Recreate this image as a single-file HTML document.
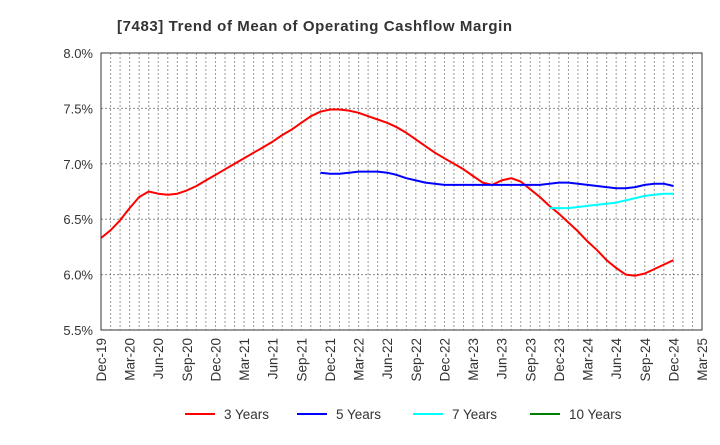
<!DOCTYPE html>
<html><head><meta charset="utf-8"><style>
body{margin:0;background:#fff;font-family:"Liberation Sans",sans-serif}
svg text{font-family:"Liberation Sans",sans-serif}
</style></head><body>
<svg id="chart" width="720" height="440">
<text x="117" y="31" font-size="15" font-weight="bold" fill="#333" textLength="395">[7483]  Trend of Mean of Operating Cashflow Margin</text>
<g id="grid"></g><g id="series"></g><g id="axes"></g><g id="legend"></g>
</svg>
<script>
const xLabels=["Dec-19","Mar-20","Jun-20","Sep-20","Dec-20","Mar-21","Jun-21","Sep-21","Dec-21","Mar-22","Jun-22","Sep-22","Dec-22","Mar-23","Jun-23","Sep-23","Dec-23","Mar-24","Jun-24","Sep-24","Dec-24","Mar-25"];
const yTicks=[5.5,6.0,6.5,7.0,7.5,8.0];
const red=[6.33,6.40,6.49,6.60,6.70,6.75,6.73,6.72,6.73,6.76,6.80,6.85,6.90,6.95,7.00,7.05,7.10,7.15,7.20,7.26,7.31,7.37,7.43,7.47,7.49,7.49,7.48,7.46,7.43,7.40,7.37,7.33,7.28,7.22,7.16,7.10,7.05,7.00,6.95,6.89,6.83,6.81,6.85,6.87,6.84,6.77,6.70,6.62,6.55,6.47,6.39,6.30,6.22,6.13,6.06,6.00,5.99,6.01,6.05,6.09,6.13];
const blueStart=23;
const blue=[6.92,6.91,6.91,6.92,6.93,6.93,6.93,6.92,6.90,6.87,6.85,6.83,6.82,6.81,6.81,6.81,6.81,6.81,6.81,6.81,6.81,6.81,6.81,6.81,6.82,6.83,6.83,6.82,6.81,6.80,6.79,6.78,6.78,6.79,6.81,6.82,6.82,6.80];
const cyanStart=47;
const cyan=[6.60,6.60,6.60,6.61,6.62,6.63,6.64,6.65,6.67,6.69,6.71,6.72,6.73,6.73];
const green=[];
const seriesNames=["3 Years","5 Years","7 Years","10 Years"];
const L=101,R=702,T=53,B=330,NM=63;
const xs=m=>L+(R-L)*m/NM;
const ys=v=>B-(B-T)*(v-5.5)/2.5;
const NS="http://www.w3.org/2000/svg";
function mk(tag,attrs,parent){const e=document.createElementNS(NS,tag);for(const k in attrs)e.setAttribute(k,attrs[k]);parent.appendChild(e);return e;}
const grid=document.getElementById('grid'),axes=document.getElementById('axes'),ser=document.getElementById('series'),leg=document.getElementById('legend');
for(let m=1;m<NM;m++){const l=mk('line',{x1:xs(m),x2:xs(m),y1:T,y2:B,stroke:'#999','stroke-dasharray':'2,2','stroke-width':1},grid);

}
yTicks.forEach(v=>{const l=mk('line',{x1:L,x2:R,y1:ys(v),y2:ys(v),stroke:'#888','stroke-dasharray':'2,2','stroke-width':1},grid);


const t=mk('text',{x:L-8,y:ys(v)+5,'text-anchor':'end','font-size':13,fill:'#333'},axes);t.textContent=v.toFixed(1)+'%';

});
xLabels.forEach((s,i)=>{const x=xs(i*3);const t=mk('text',{x:0,y:0,'text-anchor':'end','font-size':13.5,fill:'#333',transform:`translate(${x+5},${B+8}) rotate(-90)`},axes);t.textContent=s;

});
const frame=mk('rect',{x:L,y:T,width:R-L,height:B-T,fill:'none',stroke:'#333','stroke-width':1},axes);


function line(arr,start,color,name){if(!arr.length)return;const d=arr.map((v,i)=>(i?'L':'M')+xs(start+i).toFixed(1)+','+ys(v).toFixed(1)).join('');
const p=mk('path',{d:d,fill:'none',stroke:color,'stroke-width':2,'stroke-linejoin':'round'},ser);

}
line(red,0,'#ff0000','series-3-years');
line(blue,blueStart,'#0000ff','series-5-years');
line(cyan,cyanStart,'#00ffff','series-7-years');
line(green,0,'#008000','series-10-years');
const colors=['#ff0000','#0000ff','#00ffff','#008000'];const lx=[185,297,413,530];
seriesNames.forEach((n,i)=>{const g=mk('g',{},leg);


mk('line',{x1:lx[i],x2:lx[i]+30,y1:414,y2:414,stroke:colors[i],'stroke-width':2},g);
const t=mk('text',{x:lx[i]+39,y:419,'font-size':13.5,fill:'#333'},g);t.textContent=n;});
</script>
</body></html>
